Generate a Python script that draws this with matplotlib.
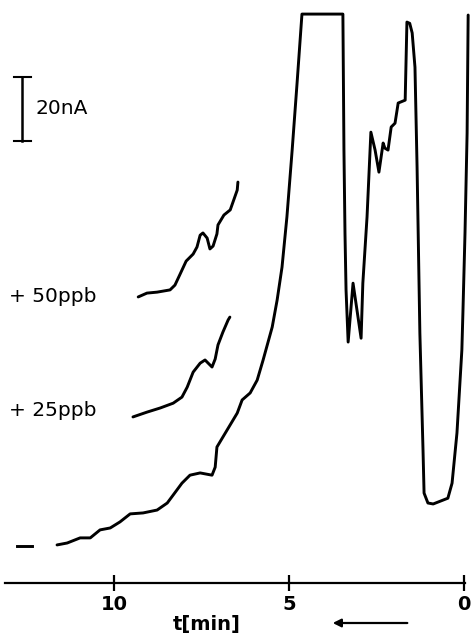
import matplotlib
matplotlib.use("Agg")
import matplotlib.pyplot as plt

# ---- data (time in min, current in nA) ----
main_t = [11.64, 11.35, 10.98, 10.69, 10.41, 10.12, 9.84, 9.55, 9.18, 8.78, 8.49,
          8.32, 8.07, 7.84, 7.55, 7.21, 7.12, 7.07, 6.78, 6.49, 6.35, 6.12, 5.92,
          5.75, 5.49, 5.35, 5.21, 5.07, 4.92, 4.78, 4.64, 3.47, 3.44, 3.41, 3.38,
          3.32, 3.18, 2.95, 2.90, 2.78, 2.67, 2.55, 2.44, 2.32, 2.27, 2.18, 2.09,
          1.98, 1.89, 1.69, 1.64, 1.56, 1.49, 1.41, 1.35, 1.27, 1.18, 1.15, 1.04, 0.89,
          0.47, 0.35, 0.21, 0.07, 0.04, -0.02, -0.08, -0.11]
main_i = [12.0, 12.6, 14.2, 14.2, 16.7, 17.3, 19.2, 21.7, 22.0, 22.9, 25.1,
          27.6, 31.3, 33.8, 34.5, 33.8, 36.3, 42.6, 47.9, 53.2, 57.3, 59.5, 63.5,
          69.8, 80.1, 88.5, 98.8, 114.5, 135.4, 156.3, 177.9, 177.9, 135.4, 109.3, 91.7,
          75.4, 93.8, 76.6, 93.8, 114.5, 141.0, 135.4, 128.5, 137.6, 136.0, 135.4, 142.6,
          143.8, 150.1, 151.0, 175.4, 175.0, 172.0, 161.3, 130.1, 78.2, 41.6, 28.2, 25.1, 24.8,
          26.6, 31.3, 47.0, 72.9, 84.5, 109.5, 140.7, 177.6]

add50_t = [9.32, 9.07, 8.78, 8.41, 8.27, 8.12, 7.95, 7.75, 7.64, 7.55, 7.47,
           7.35, 7.27, 7.18, 7.07, 7.04, 6.87, 6.69, 6.58, 6.49, 6.47]
add50_i = [89.5, 90.7, 91.0, 91.7, 93.2, 96.7, 100.7, 102.9, 105.1, 108.8, 109.5,
           107.9, 104.5, 105.4, 109.2, 112.0, 115.1, 116.7, 120.1, 122.9, 125.4]

add25_t = [9.47, 9.07, 8.69, 8.32, 8.07, 7.92, 7.75, 7.55, 7.41, 7.32, 7.21,
           7.12, 7.04, 6.90, 6.75, 6.70]
add25_i = [52.0, 53.5, 54.8, 56.3, 58.2, 61.3, 66.0, 68.8, 69.8, 68.8, 67.6,
           70.1, 74.5, 78.5, 82.3, 83.2]

baseline_t = [12.78, 12.35]
baseline_i = [11.7, 11.7]

labels = ["+ 50ppb", "+ 25ppb"]
label_i = [89.5, 53.9]
scale_na = 20
tick_vals = [10, 5, 0]
tick_labels = ["10", "5", "0"]

# ---- figure ----
fig = plt.figure(figsize=(4.74, 6.39), dpi=100)
ax = fig.add_axes([0, 0, 1, 1])
ax.set_xlim(13.27, -0.277)
ax.set_ylim(-17.4, 182.3)

lw = 2.1
for tt, ii in [(main_t, main_i), (add50_t, add50_i), (add25_t, add25_i)]:
    ax.plot(tt, ii, color="black", lw=lw, solid_joinstyle="round",
            solid_capstyle="round")
ax.plot(baseline_t, baseline_i, color="black", lw=lw)

fs = 14.5
for lab, yi in zip(labels, label_i):
    ax.text(13.0, yi, lab, fontsize=fs, ha="left", va="center")

# scale bar 20 nA
bar_top = 158.3
ax.plot([12.64, 12.64], [bar_top, bar_top - scale_na], color="black", lw=1.8)
ax.plot([12.87, 12.37], [bar_top, bar_top], color="black", lw=1.5)
ax.plot([12.87, 12.37], [bar_top - scale_na, bar_top - scale_na], color="black", lw=1.5)
ax.text(12.26, bar_top - scale_na / 2, f"{scale_na}nA", fontsize=fs, ha="left", va="center")

# time axis
for s in ["top", "left", "right"]:
    ax.spines[s].set_visible(False)
ax.spines["bottom"].set_position(("data", 0))
ax.spines["bottom"].set_bounds(-0.02, 13.12)
ax.spines["bottom"].set_linewidth(1.6)
ax.set_yticks([])
ax.set_xticks(tick_vals)
ax.set_xticklabels(tick_labels, fontsize=14, fontweight="bold")
ax.tick_params(axis="x", direction="inout", length=11, width=1.6, pad=3)

ax.text(7.35, -13.0, "t[min]", fontsize=14, fontweight="bold", ha="center", va="center")
ax.annotate("", xy=(3.84, -12.4), xytext=(1.55, -12.4),
            arrowprops=dict(arrowstyle="-|>", color="black", lw=1.6,
                            mutation_scale=12))

fig.savefig("out.png", dpi=100)
